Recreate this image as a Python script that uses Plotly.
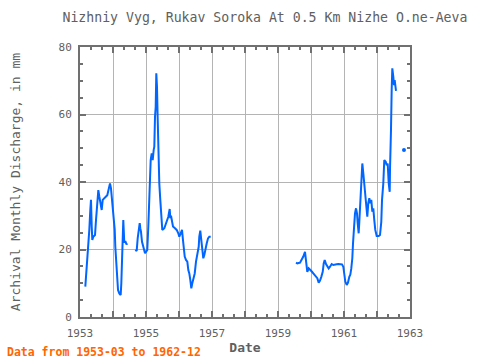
import plotly.graph_objects as go

# Decimal-year positions and discharge values (mm); None = gap
years = [
    1953.161, 1953.182, 1953.221, 1953.252, 1953.282, 1953.312, 1953.333, 1953.355, 1953.373, 1953.403,
    1953.455, 1953.485, 1953.524, 1953.555, 1953.585, 1953.627, 1953.658, 1953.688, 1953.727, 1953.788,
    1953.827, 1953.870, 1953.909, 1953.939, 1953.979, 1954.009, 1954.052, 1954.070, 1954.112, 1954.152,
    1954.191, 1954.233, 1954.252, 1954.273, 1954.294, 1954.312, 1954.342, 1954.373, 1954.409, 1954.433,
    1954.550,
    1954.676, 1954.718, 1954.748, 1954.779, 1954.809, 1954.827, 1954.848, 1954.879, 1954.918, 1954.970,
    1955.000, 1955.039, 1955.070, 1955.100, 1955.121, 1955.142, 1955.173, 1955.203, 1955.233, 1955.252,
    1955.273, 1955.294, 1955.312, 1955.333, 1955.355, 1955.373, 1955.403, 1955.433, 1955.464, 1955.494,
    1955.555, 1955.597, 1955.636, 1955.676, 1955.718, 1955.736, 1955.758, 1955.788, 1955.818, 1955.879,
    1955.930, 1955.979, 1956.009, 1956.052, 1956.091, 1956.121, 1956.142, 1956.173, 1956.212, 1956.252,
    1956.282, 1956.312, 1956.342, 1956.373, 1956.403, 1956.433, 1956.476, 1956.515, 1956.555, 1956.597,
    1956.615, 1956.645, 1956.676, 1956.706, 1956.736, 1956.767, 1956.797, 1956.839, 1956.879, 1956.918,
    1956.961,
    1957.500,
    1959.545, 1959.585, 1959.667, 1959.718, 1959.767, 1959.818, 1959.848, 1959.888, 1959.930, 1959.991,
    1960.030, 1960.070, 1960.112, 1960.152, 1960.191, 1960.233, 1960.273, 1960.312, 1960.355, 1960.385,
    1960.415, 1960.455, 1960.494, 1960.536, 1960.576, 1960.627, 1960.676, 1960.727, 1960.779, 1960.827,
    1960.879, 1960.939, 1960.979, 1961.009, 1961.039, 1961.082, 1961.121, 1961.161, 1961.191, 1961.221,
    1961.252, 1961.273, 1961.303, 1961.333, 1961.364, 1961.394, 1961.415, 1961.445, 1961.464, 1961.494,
    1961.524, 1961.555, 1961.585, 1961.615, 1961.645, 1961.676, 1961.706, 1961.736, 1961.767, 1961.797,
    1961.827, 1961.858, 1961.888, 1961.918, 1961.948, 1961.991, 1962.052, 1962.091, 1962.130, 1962.152,
    1962.191, 1962.221, 1962.264, 1962.294, 1962.324, 1962.355, 1962.385, 1962.394, 1962.415, 1962.424,
    1962.445, 1962.464, 1962.494, 1962.515, 1962.536, 1962.555, 1962.576,
    1962.700,
    1962.818,
]
discharge = [
    9.0, 11.5, 16.9, 20.8, 25.8, 31.7, 34.7, 26.8, 22.8, 23.8,
    24.3, 28.7, 34.7, 37.6, 35.7, 33.7, 31.7, 34.7, 35.2, 35.7,
    36.1, 38.1, 39.6, 38.1, 33.7, 30.7, 25.8, 20.8, 14.9, 8.0,
    7.0, 6.5, 10.0, 17.9, 24.3, 28.7, 22.0, 22.5, 21.5, 21.8,
    None,
    19.9, 19.6, 23.3, 25.8, 27.8, 26.3, 25.3, 22.3, 20.8, 18.9,
    19.3, 19.9, 26.8, 34.7, 40.1, 46.5, 48.5, 46.5, 49.5, 50.5,
    59.3, 62.3, 72.2, 68.2, 58.4, 48.5, 39.6, 34.7, 29.7, 25.8,
    26.3, 27.3, 28.7, 29.7, 32.0, 29.3, 30.0, 27.8, 26.8, 26.3,
    25.8, 24.8, 23.8, 24.8, 25.8, 22.8, 19.9, 17.9, 16.9, 16.4,
    13.9, 12.9, 11.0, 8.5, 10.0, 11.5, 12.9, 16.4, 18.4, 20.8,
    23.8, 25.6, 22.8, 19.9, 17.4, 18.4, 20.3, 21.8, 23.3, 23.8,
    23.8,
    None,
    16.1, 15.9, 16.1, 16.9, 17.9, 19.3, 16.9, 13.4, 14.4, 13.9,
    13.4, 12.9, 12.4, 11.9, 11.5, 10.2, 10.8, 11.9, 13.4, 15.9,
    16.9, 15.7, 15.1, 14.4, 14.9, 15.7, 15.4, 15.4, 15.6, 15.7,
    15.7, 15.6, 14.9, 12.9, 10.5, 9.5, 10.2, 11.9, 12.5, 14.4,
    17.4, 21.8, 26.8, 30.7, 32.2, 30.7, 27.8, 24.8, 28.2, 34.7,
    40.6, 45.5, 42.6, 39.6, 36.7, 32.7, 29.7, 33.7, 35.2, 33.7,
    34.7, 31.2, 32.2, 28.7, 25.8, 24.0, 24.0, 24.3, 28.2, 34.7,
    39.6, 46.5, 46.0, 45.0, 45.5, 39.6, 37.1, 43.6, 49.5, 55.4,
    67.3, 73.7, 71.2, 68.7, 70.2, 67.3, 67.0,
    None,
    49.5,
]

year_ticks = list(range(1953, 1964))
year_labels = [str(y) if (y - 1953) % 2 == 0 else "" for y in year_ticks]
y_ticks = [0, 20, 40, 60, 80]

title_text = "Nizhniy Vyg, Rukav Soroka At 0.5 Km Nizhe O.ne-Aeva"
footer_text = "Data from 1953-03 to 1962-12"

# isolated points (no neighbours) drawn as dots
iso_x, iso_y = [], []
for i, v in enumerate(discharge):
    if v is None:
        continue
    prev_none = i == 0 or discharge[i - 1] is None
    next_none = i == len(discharge) - 1 or discharge[i + 1] is None
    if prev_none and next_none:
        iso_x.append(years[i])
        iso_y.append(v)

LINE = "#0066ff"
AX = "#707070"
GRID = "#b4b4b4"
FONT = "DejaVu Sans Mono"

fig = go.Figure()
fig.add_trace(go.Scatter(x=years, y=discharge, mode="lines",
                         line=dict(color=LINE, width=2), connectgaps=False,
                         showlegend=False, hoverinfo="skip"))
fig.add_trace(go.Scatter(x=iso_x, y=iso_y, mode="markers",
                         marker=dict(color=LINE, size=4), showlegend=False,
                         hoverinfo="skip"))

fig.update_layout(
    width=480, height=360,
    margin=dict(l=80, r=70, t=47, b=43),
    paper_bgcolor="white", plot_bgcolor="white",
    font=dict(family=FONT, color="#606060", size=11),
    hovermode=False,
    title=dict(text=title_text, x=0.552, xref="container", xanchor="center",
               y=0.953, yref="container", yanchor="middle",
               font=dict(family=FONT, size=13.2, color="#606060")),
    xaxis=dict(
        range=[1953, 1963], tickvals=year_ticks, ticktext=year_labels,
        automargin=False,
        showgrid=True, gridcolor=GRID, gridwidth=1, zeroline=False,
        ticks="inside", ticklen=6, tickwidth=1.5, tickcolor=AX,
        showline=True, linecolor=AX, linewidth=2, mirror="ticks",
        minor=dict(tick0=1953, dtick=1/3, ticks="inside", ticklen=3,
                   tickwidth=1.5, tickcolor=AX, showgrid=False),
        tickfont=dict(family=FONT, size=11, color="#606060"),
        ticklabelstandoff=5,
        title=dict(text="<b>Date</b>", standoff=4,
                   font=dict(family=FONT, size=13, color="#606060")),
    ),
    yaxis=dict(
        range=[0, 80], tickvals=y_ticks,
        automargin=False,
        showgrid=True, gridcolor=GRID, gridwidth=1, zeroline=False,
        ticks="inside", ticklen=6, tickwidth=1.5, tickcolor=AX,
        showline=True, linecolor=AX, linewidth=2, mirror="ticks",
        minor=dict(tick0=0, dtick=5, ticks="inside", ticklen=3,
                   tickwidth=1.5, tickcolor=AX, showgrid=False),
        tickfont=dict(family=FONT, size=11, color="#606060"),
        ticklabelstandoff=4,
        title=dict(text="Archival Monthly Discharge, in mm", standoff=35,
                   font=dict(family=FONT, size=13, color="#606060")),
    ),
    annotations=[dict(text="<b>" + footer_text + "</b>", xref="paper", yref="paper",
                      x=-75/330, y=-35/270, xanchor="left", yanchor="middle",
                      showarrow=False,
                      font=dict(family=FONT, size=11.5, color="#ff6600"))],
)

fig.write_html("out.html", config={"displayModeBar": False},
               post_script="document.body.style.margin='0';document.body.style.padding='0';")
